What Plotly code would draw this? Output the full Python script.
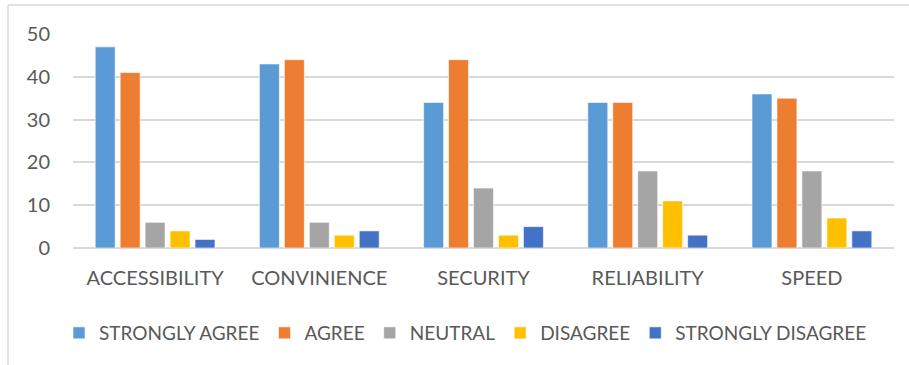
import plotly.graph_objects as go

categories = ["ACCESSIBILITY", "CONVINIENCE", "SECURITY", "RELIABILITY", "SPEED"]
series_names = ["STRONGLY AGREE", "AGREE", "NEUTRAL", "DISAGREE", "STRONGLY DISAGREE"]
strongly_agree = [47, 43, 34, 34, 36]
agree = [41, 44, 44, 34, 35]
neutral = [6, 6, 14, 18, 18]
disagree = [4, 3, 3, 11, 7]
strongly_disagree = [2, 4, 5, 3, 4]
colors = ["#5B9BD5", "#ED7D31", "#A5A5A5", "#FFC000", "#4472C4"]
y_ticks = [0, 10, 20, 30, 40, 50]

series_values = [strongly_agree, agree, neutral, disagree, strongly_disagree]

W, H = 909, 365
ml, mr, mt, mb = 73, 15, 34, 117
pw = W - ml - mr
ph = H - mt - mb

fig = go.Figure()
for name, vals, col in zip(series_names, series_values, colors):
    fig.add_trace(go.Bar(
        x=categories, y=vals, name=name,
        marker=dict(color=col, line=dict(color="rgba(255,255,255,0.6)", width=1)),
    ))

font = dict(family="Lato, Carlito, Calibri, sans-serif", size=20, color="#595959")
legend_font = dict(family="Lato, Carlito, Calibri, sans-serif", size=19, color="#595959")

def px_x(p):
    return (p - ml) / pw

def px_y(p):
    return (H - mb - p) / ph

fig.add_shape(type="line", xref="paper", yref="paper",
              x0=px_x(8), x1=px_x(W + 5), y0=px_y(5), y1=px_y(5),
              line=dict(color="#D9D9D9", width=1.5))
fig.add_shape(type="line", xref="paper", yref="paper",
              x0=px_x(8), x1=px_x(8), y0=px_y(5), y1=px_y(H + 5),
              line=dict(color="#D9D9D9", width=1.5))

fig.update_layout(
    width=W, height=H,
    margin=dict(l=ml, r=mr, t=mt, b=mb, autoexpand=False),
    paper_bgcolor="white", plot_bgcolor="white",
    barmode="group", bargap=0.24, bargroupgap=0.2,
    font=font,
    showlegend=True,
    legend=dict(orientation="h", x=px_x(59), xanchor="left", y=px_y(314), yanchor="top",
                font=legend_font, itemwidth=30, traceorder="normal", tracegroupgap=0),
    xaxis=dict(showgrid=False, showline=False, ticks="", tickfont=font,
               ticklabelstandoff=16),
    yaxis=dict(range=[0, 50], tickvals=y_ticks, showgrid=True, gridcolor="#D9D9D9",
               gridwidth=1.5, zeroline=True, zerolinecolor="#D9D9D9", zerolinewidth=1.5,
               showline=False, ticks="", tickfont=font, ticklabelstandoff=22),
)

fig.write_html("out.html")
